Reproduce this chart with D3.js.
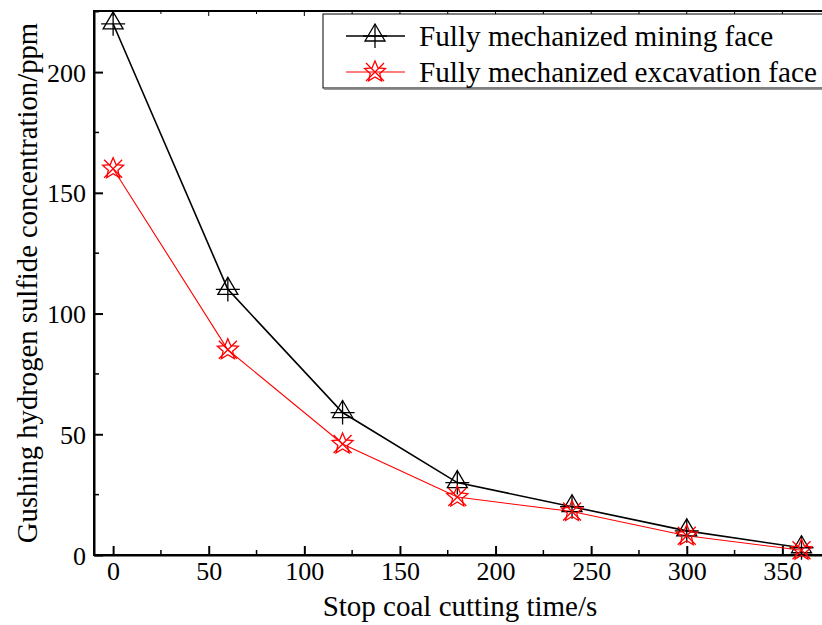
<!DOCTYPE html>
<html>
<head>
<meta charset="utf-8">
<script src="https://cdn.jsdelivr.net/npm/d3@7/dist/d3.min.js"></script>
<style>
  html, body { margin: 0; padding: 0; background: #fff; }
  svg { display: block; }
</style>
</head>
<body>
<svg id="chart" width="822" height="625"></svg>
<script>
// Stop coal cutting time (s)
const times = [0, 60, 120, 180, 240, 300, 360];
// Gushing H2S concentration (ppm)
const miningFace = [220, 110, 59, 30, 20, 10, 3];
const excavationFace = [160, 85, 46, 24, 18, 8, 2];
const seriesNames = ["Fully mechanized mining face", "Fully mechanized excavation face"];
const xTicks = [0, 50, 100, 150, 200, 250, 300, 350];
const yTicks = [0, 50, 100, 150, 200];

const FONT = "'Liberation Serif', 'Times New Roman', 'DejaVu Serif', serif";

const svg = d3.select("#chart");
const plotLeft = 94, plotRight = 834, plotTop = 11, plotBottom = 555;

const x = d3.scaleLinear().domain([-10, 377]).range([plotLeft, plotRight]);
const y = d3.scaleLinear().domain([0, 225.3]).range([plotBottom, plotTop]);

// Frame
svg.append("rect").attr("x", plotLeft).attr("y", plotTop)
  .attr("width", plotRight - plotLeft).attr("height", plotBottom - plotTop)
  .attr("fill", "none").attr("stroke", "#000").attr("stroke-width", 2);

// Axes with inward ticks
const xMinor = d3.range(25, 376, 50);
const yMinor = d3.range(25, 226, 50);

const gx = svg.append("g").attr("transform", `translate(0,${plotBottom})`);
gx.call(d3.axisBottom(x).tickValues(xTicks).tickSizeInner(-9).tickSizeOuter(0).tickPadding(7));
gx.attr("font-family", FONT).attr("font-size", 26);
gx.selectAll(".tick line").attr("stroke-width", 2);
gx.select(".domain").attr("stroke-width", 2);
gx.selectAll("text").attr("dy", "0.71em").attr("fill", "#000");
gx.selectAll(".minor").data(xMinor).enter().append("line")
  .attr("x1", d => x(d)).attr("x2", d => x(d)).attr("y1", 0).attr("y2", -5)
  .attr("stroke", "#000").attr("stroke-width", 1.5);

const gTop = svg.append("g").attr("transform", `translate(0,${plotTop})`);
gTop.selectAll(".maj").data(xTicks).enter().append("line")
  .attr("x1", d => x(d)).attr("x2", d => x(d)).attr("y1", 0).attr("y2", 5)
  .attr("stroke", "#000").attr("stroke-width", 1);
gTop.selectAll(".min").data(xMinor).enter().append("line")
  .attr("x1", d => x(d)).attr("x2", d => x(d)).attr("y1", 0).attr("y2", 3)
  .attr("stroke", "#000").attr("stroke-width", 1);

const gy = svg.append("g").attr("transform", `translate(${plotLeft},0)`);
gy.call(d3.axisLeft(y).tickValues(yTicks).tickSizeInner(-9).tickSizeOuter(0).tickPadding(8));
gy.attr("font-family", FONT).attr("font-size", 26);
gy.selectAll(".tick line").attr("stroke-width", 2);
gy.select(".domain").attr("stroke-width", 2);
gy.selectAll("text").attr("dy", "0.35em").attr("fill", "#000");
gy.selectAll(".minor").data(yMinor).enter().append("line")
  .attr("x1", 0).attr("x2", 5).attr("y1", d => y(d)).attr("y2", d => y(d))
  .attr("stroke", "#000").attr("stroke-width", 1.5);

// Axis titles
svg.append("text").attr("x", 460).attr("y", 616).attr("text-anchor", "middle")
  .attr("font-family", FONT).attr("font-size", 29).text("Stop coal cutting time/s");
svg.append("text").attr("transform", "translate(37,283) rotate(-90)")
  .attr("text-anchor", "middle").attr("font-family", FONT).attr("font-size", 28.7)
  .text("Gushing hydrogen sulfide concentration/ppm");

// Marker drawers
function triangleMarker(g, cx, cy) {
  g.append("path")
    .attr("d", `M${cx},${cy - 12} L${cx + 10},${cy + 5} L${cx - 10},${cy + 5} Z`)
    .attr("fill", "none").attr("stroke", "#000").attr("stroke-width", 1.3);
  g.append("path")
    .attr("d", `M${cx - 12},${cy} H${cx + 12} M${cx},${cy - 12} V${cy + 12}`)
    .attr("fill", "none").attr("stroke", "#000").attr("stroke-width", 1.3);
}
function starMarker(g, cx, cy) {
  const pts = [];
  for (let i = 0; i < 10; i++) {
    const r = i % 2 === 0 ? 11 : 5;
    const a = -Math.PI / 2 + i * Math.PI / 5;
    pts.push([cx + r * Math.cos(a), cy + r * Math.sin(a)]);
  }
  g.append("path").attr("d", "M" + pts.map(p => p.join(",")).join("L") + "Z")
    .attr("fill", "none").attr("stroke", "#ff0000").attr("stroke-width", 1.3);
  const k = 9;
  g.append("path")
    .attr("d", `M${cx - k},${cy - k} L${cx + k},${cy + k} M${cx - k},${cy + k} L${cx + k},${cy - k}`)
    .attr("fill", "none").attr("stroke", "#ff0000").attr("stroke-width", 1.3);
}

const line = d3.line().x(d => x(d[0])).y(d => y(d[1]));
const series = [
  { values: miningFace, color: "#000", width: 1.6, marker: triangleMarker },
  { values: excavationFace, color: "#ff0000", width: 1.1, marker: starMarker }
];

const plot = svg.append("g");
series.forEach(s => {
  const pts = times.map((t, i) => [t, s.values[i]]);
  plot.append("path").datum(pts).attr("d", line)
    .attr("fill", "none").attr("stroke", s.color).attr("stroke-width", s.width);
});
series.forEach(s => {
  const g = plot.append("g");
  times.forEach((t, i) => s.marker(g, x(t), y(s.values[i])));
});

// Legend
const lg = svg.append("g");
lg.append("rect").attr("x", 323).attr("y", 14).attr("width", 510).attr("height", 74)
  .attr("fill", "#fff").attr("stroke", "#000").attr("stroke-width", 1);
// grey shadow line under the legend box
lg.append("line").attr("x1", 324).attr("x2", 833).attr("y1", 89.5).attr("y2", 89.5)
  .attr("stroke", "#999").attr("stroke-width", 1);
const rowsY = [36, 72];
series.forEach((s, i) => {
  const ly = rowsY[i];
  lg.append("line").attr("x1", 346).attr("x2", 405).attr("y1", ly).attr("y2", ly)
    .attr("stroke", s.color).attr("stroke-width", s.width);
  s.marker(lg, 375, ly);
  lg.append("text").attr("x", 419).attr("y", ly).attr("dy", "0.35em")
    .attr("font-family", FONT).attr("font-size", 29.2).text(seriesNames[i]);
});
</script>
</body>
</html>
